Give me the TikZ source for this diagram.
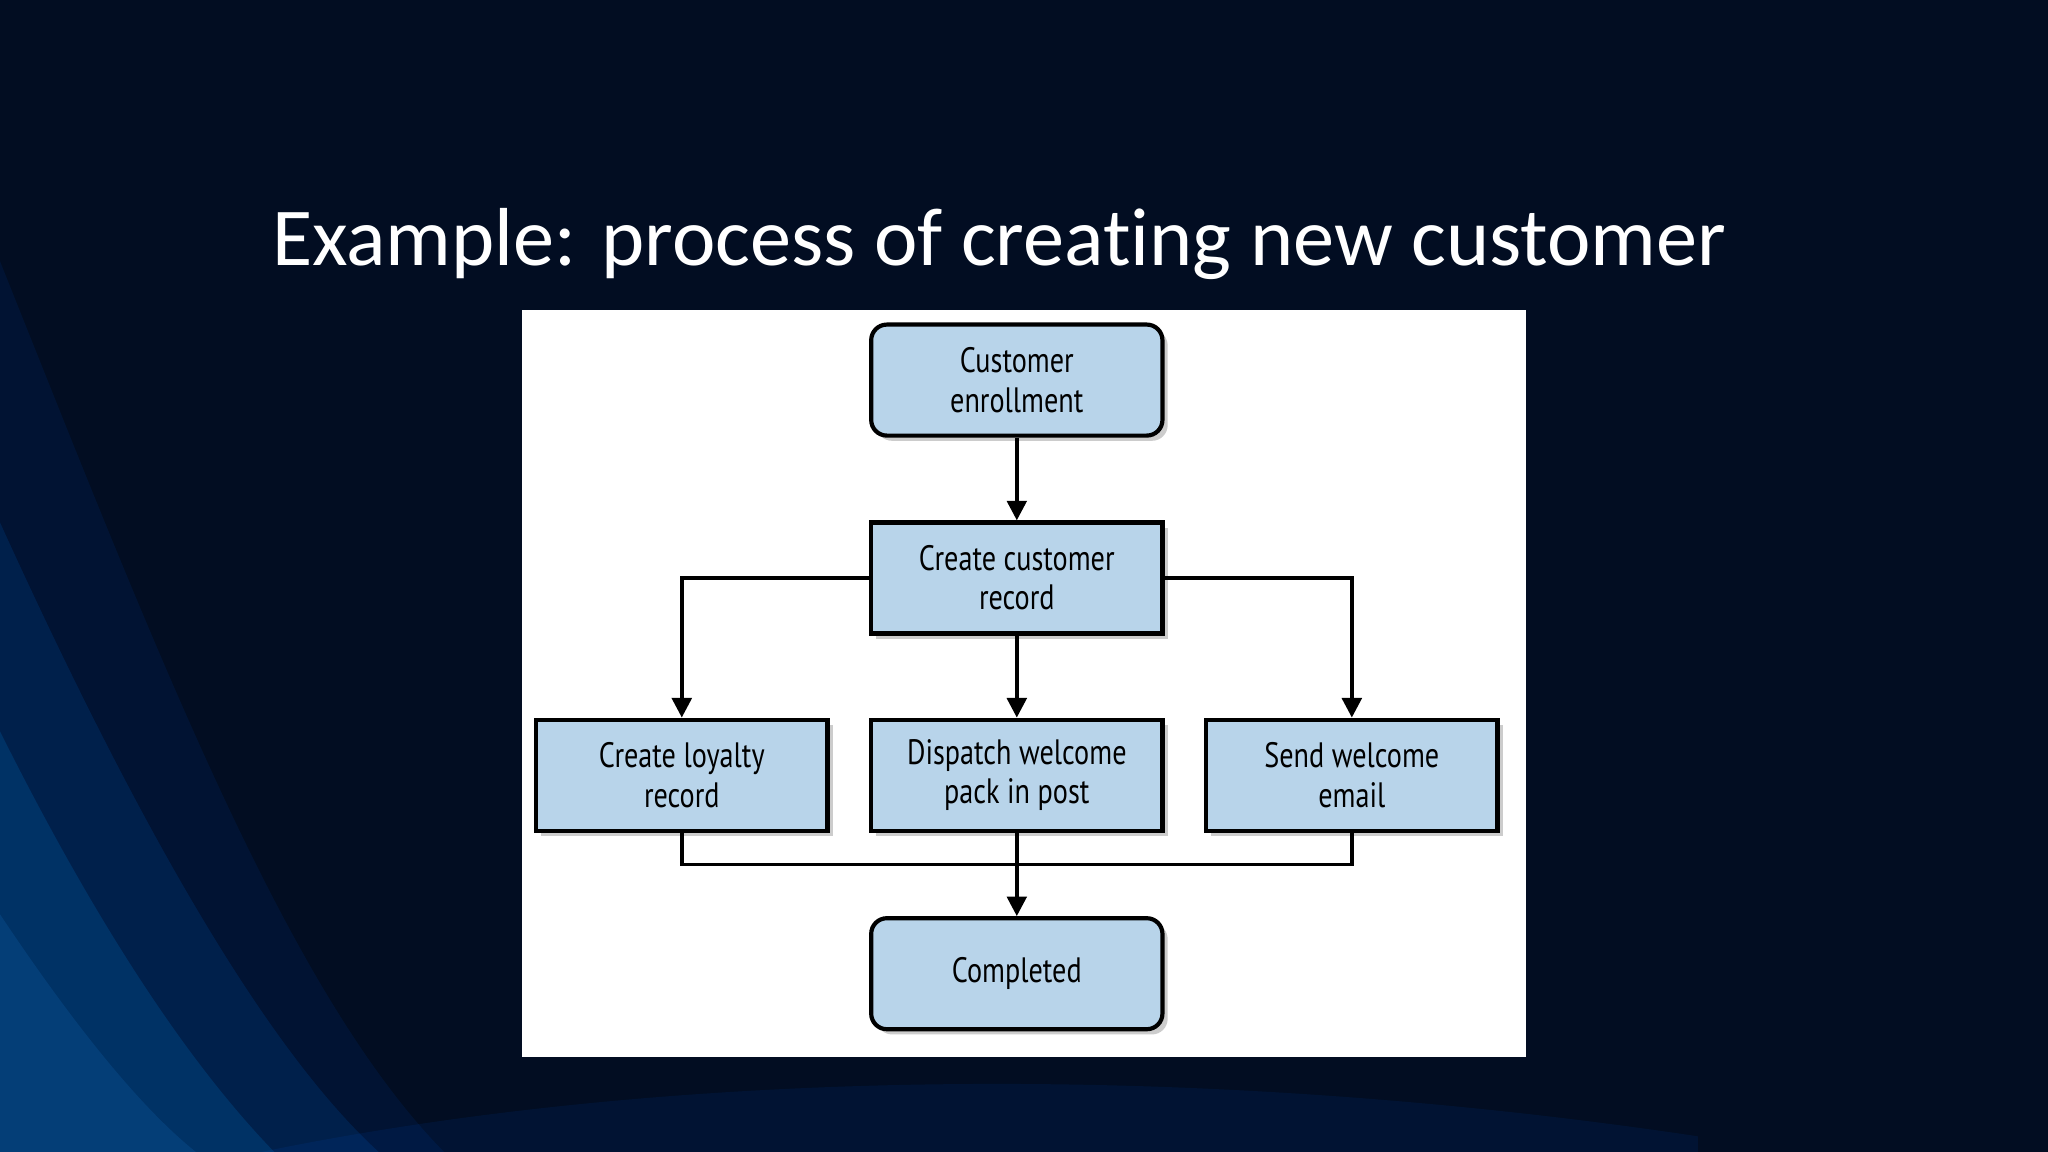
\documentclass[tikz,border=0pt]{standalone}
\usepackage{fontspec}
\setmainfont[Ligatures={NoCommon}]{Carlito}
\newfontfamily\boxfont[FakeStretch=0.8]{PT Sans}
\usetikzlibrary{arrows.meta,shadows}
\definecolor{bg}{HTML}{020D22}
\definecolor{boxblue}{HTML}{B8D4EA}
\begin{document}
\begin{tikzpicture}[x=1pt,y=-1pt,
  box/.style={draw=black,line width=3.2pt,fill=boxblue,minimum width=223pt,minimum height=85pt,align=center,font=\boxfont\fontsize{27}{30}\selectfont,inner sep=0pt,drop shadow={shadow xshift=4pt,shadow yshift=-4pt,opacity=0.4}},
  rbox/.style={box,rounded corners=12pt},
  conn/.style={line width=2.8pt},
  arr/.style={conn,-{Triangle[length=15pt,width=15pt]}}]
\useasboundingbox (0,0) rectangle (1568,882);
\fill[bg] (0,0) rectangle (1568,882);
% blue swooshes
\fill[blue!60!cyan,opacity=0.08] (0,200) .. controls (120,500) and (220,760) .. (340,882) -- (0,882) -- cycle;
\fill[blue!50!cyan,opacity=0.12] (0,400) .. controls (100,620) and (200,800) .. (290,882) -- (0,882) -- cycle;
\fill[blue!40!cyan,opacity=0.15] (0,560) .. controls (80,720) and (150,820) .. (210,882) -- (0,882) -- cycle;
\fill[cyan!50!blue,opacity=0.2] (0,700) .. controls (60,790) and (110,850) .. (150,882) -- (0,882) -- cycle;
\fill[blue!60!cyan,opacity=0.08] (200,882) .. controls (500,820) and (900,810) .. (1300,870) -- (1300,882) -- cycle;
\node[text=white,font=\fontsize{63}{70}\selectfont,anchor=center] (title) at (765,187) {Example: process of creating new customer};
\fill[white] (400,237) rectangle (1168,809);
\node[rbox] (enr) at (778.5,291) {Customer\\enrollment};
\node[box] (rec) at (778.5,442.5) {Create customer\\record};
\node[box] (loy) at (522,593.5) {Create loyalty\\record};
\node[box] (dis) at (778.5,593.5) {Dispatch welcome\\pack in post};
\node[box] (snd) at (1035,593.5) {Send welcome\\email};
\node[rbox] (cmp) at (778.5,745.5) {Completed};
\coordinate (j) at (778.5,662);
\draw[arr] (enr) -- (rec);
\draw[arr] (rec.west) -| (loy.north);
\draw[arr] (rec.east) -| (snd.north);
\draw[arr] (rec) -- (dis);
\draw[conn] (loy.south) |- (j) -| (snd.south);
\draw[arr] (dis.south) -- (cmp.north);
\end{tikzpicture}
\end{document}
